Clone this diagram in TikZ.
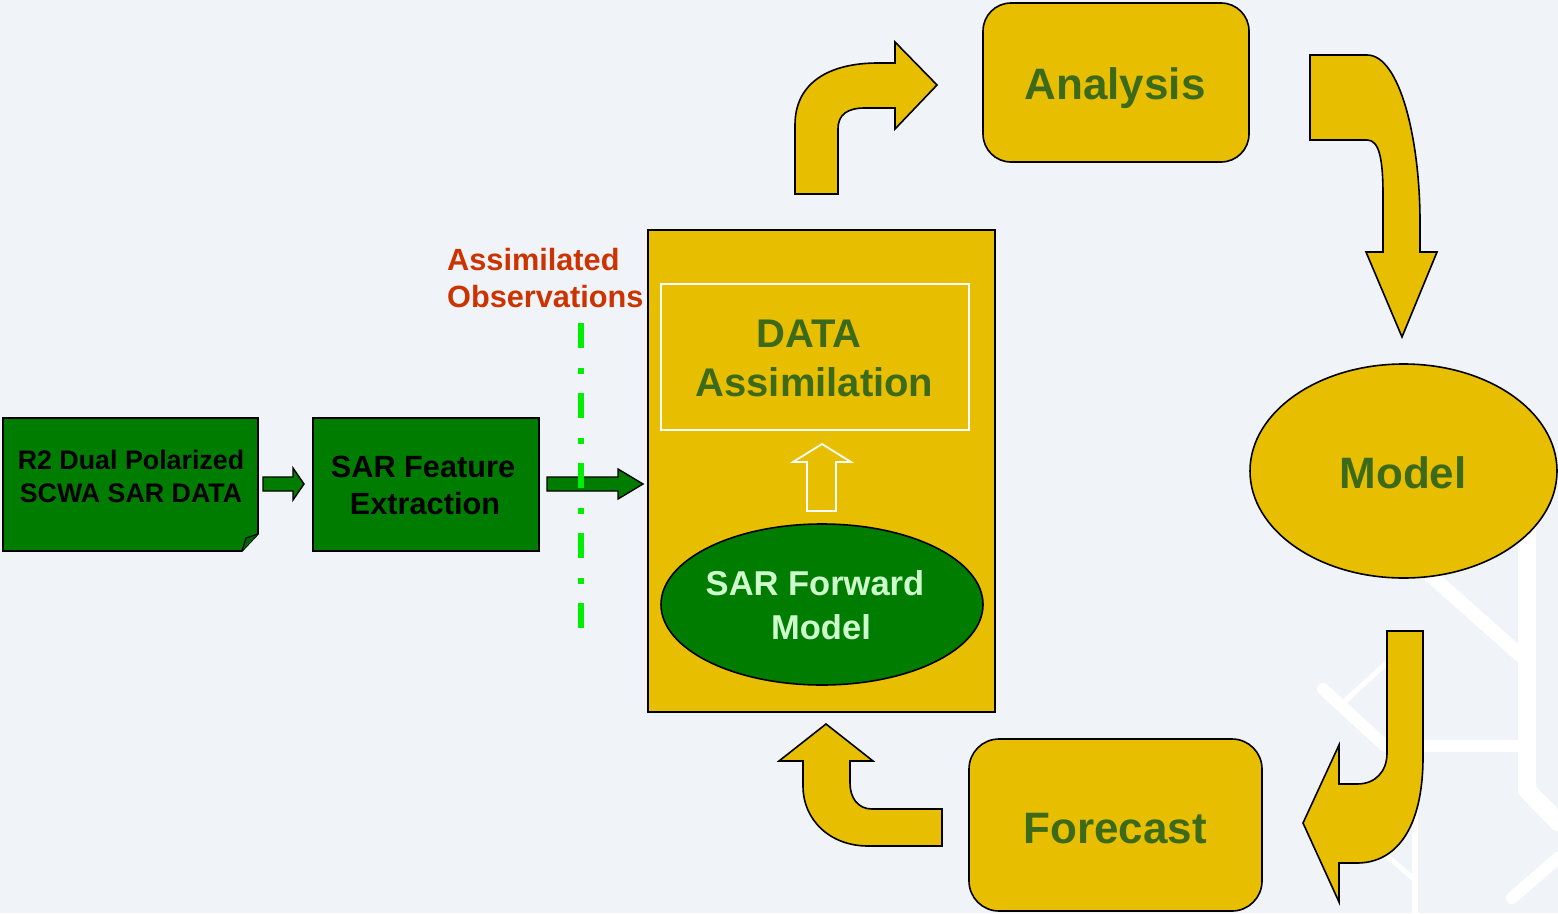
\documentclass[tikz,border=0pt]{standalone}
\usepackage{fontspec}
\setmainfont{Liberation Sans}
\usetikzlibrary{shapes.geometric}
\definecolor{bgc}{HTML}{F0F4F8}
\definecolor{yel}{HTML}{E8BE00}
\definecolor{grn}{HTML}{007C00}
\definecolor{olv}{HTML}{3C6A18}
\definecolor{redt}{HTML}{CC3300}
\definecolor{limeg}{HTML}{00EE00}
\definecolor{ltg}{HTML}{CCFFCC}
\definecolor{foldg}{HTML}{006400}
\tikzset{
  ybox/.style={draw=black, line width=1.6pt, fill=yel, inner sep=0pt},
  gbox/.style={draw=black, line width=1.6pt, fill=grn, inner sep=0pt},
  blockarrow/.style={draw=black, line width=1.6pt, fill=yel, line join=miter},
  garrow/.style={draw=black, line width=1.4pt, fill=grn, line join=miter},
  bgline/.style={draw=white, line cap=round, line join=round},
  bigtxt/.style={anchor=base, inner sep=0pt, text=olv, font=\bfseries\fontsize{44pt}{50pt}\selectfont},
  datxt/.style={anchor=base, inner sep=0pt, text=olv, font=\bfseries\fontsize{40pt}{46pt}\selectfont},
  fmtxt/.style={anchor=base, inner sep=0pt, text=ltg, font=\bfseries\fontsize{34.5pt}{40pt}\selectfont},
  blktxt/.style={anchor=base, inner sep=0pt, text=black, font=\bfseries\fontsize{30.7pt}{36pt}\selectfont},
  srctxt/.style={anchor=base, inner sep=0pt, text=black, font=\bfseries\fontsize{26.8pt}{32pt}\selectfont},
  redtxt/.style={anchor=base west, inner sep=0pt, text=redt, font=\bfseries\fontsize{30.7pt}{36pt}\selectfont},
}
\begin{document}
\begin{tikzpicture}[x=1pt,y=-1pt]
\useasboundingbox (0,0) rectangle (1558,913);
\fill[bgc] (0,0) rectangle (1558,913);

% faint background network
\draw[bgline, line width=18pt] (1527,520) -- (1527,790) -- (1558,822);
\draw[bgline, line width=14pt] (1430,575) -- (1520,655);
\draw[bgline, line width=12pt] (1323,689) -- (1385,746) -- (1527,746);
\draw[bgline, line width=5pt] (1345,701) -- (1392,658);
\draw[bgline, line width=6pt] (1415,800) -- (1415,913);
\draw[bgline, line width=5pt] (1380,850) -- (1415,880);
\draw[bgline, line width=12pt] (1512,898) -- (1558,858);

% source document box
\coordinate (srcNW) at (3,418);
\draw[gbox, line join=miter] (srcNW) -- (258,418) -- (258,534) -- (242,551) -- (3,551) -- cycle;
\fill[foldg] (242,551) -- (246,538) -- (258,534) -- cycle;
\draw[black, line width=1.2pt] (242,551) -- (246,538) -- (258,534);
\node[srctxt] (srcA) at (131,469) {R2 Dual Polarized};
\node[srctxt] (srcB) at (131,502) {SCWA SAR DATA};

% feature extraction
\node[gbox, minimum width=226pt, minimum height=133pt] (sar) at (426,484.5) {};
\node[blktxt] (sarA) at (423,477) {SAR Feature};
\node[blktxt] (sarB) at (425,514) {Extraction};

% green arrows
\draw[garrow] (263,477) -- (293,477) -- (293,468) -- (304,484) -- (293,500) -- (293,491) -- (263,491) -- cycle;
\draw[garrow] (547,477) -- (618,477) -- (618,469) -- (643,484) -- (618,499) -- (618,491) -- (547,491) -- cycle;

% dashed line and label
\draw[limeg, line width=6pt, dash pattern=on 25pt off 20pt on 6pt off 19pt] (581,323) -- (581,631);
\node[redtxt] (obsA) at (447,270) {Assimilated};
\node[redtxt] (obsB) at (447,307) {Observations};

% data assimilation block
\node[ybox, minimum width=347pt, minimum height=482pt] (da) at (821.5,471) {};
\node[draw=white, line width=1.5pt, minimum width=308pt, minimum height=146pt, inner sep=0pt] (inner) at (815,357) {};
\node[datxt] (daA) at (809,347) {DATA};
\node[datxt] (daB) at (814.5,396) {Assimilation};
\draw[white, line width=1.8pt, line join=miter] (807,511) -- (807,462) -- (793,462) -- (822,444) -- (851,462) -- (836,462) -- (836,511) -- cycle;
\node[gbox, ellipse, minimum width=322pt, minimum height=161pt] (sfm) at (822,604.5) {};
\node[fmtxt] (sfmA) at (815,595.5) {SAR Forward};
\node[fmtxt] (sfmB) at (821,639.5) {Model};

% cycle boxes
\node[ybox, rounded corners=28pt, minimum width=266pt, minimum height=159pt] (ana) at (1116,82.5) {};
\node[bigtxt] (anaT) at (1115,99) {Analysis};
\node[ybox, ellipse, minimum width=307pt, minimum height=214pt] (model) at (1403.5,471) {};
\node[bigtxt] (modelT) at (1403,488) {Model};
\node[ybox, rounded corners=30pt, minimum width=293pt, minimum height=172pt] (fc) at (1115.5,825) {};
\node[bigtxt] (fcT) at (1115,843) {Forecast};

% block arrows
\draw[blockarrow] (795,194) -- (795,125) .. controls (795,82) and (830,63) .. (878,63) -- (895,63) -- (895,42) -- (937,85) -- (895,129) -- (895,108) -- (865,108) .. controls (848,108) and (838,114) .. (838,129) -- (838,194) -- cycle;
\draw[blockarrow] (1310,55) -- (1367,55) .. controls (1400,55) and (1420,140) .. (1420,222) -- (1420,252) -- (1437,252) -- (1402,337) -- (1366,252) -- (1383,252) -- (1383,195) .. controls (1383,158) and (1379,140) .. (1367,140) -- (1310,140) -- cycle;
\draw[blockarrow] (1387,631) -- (1423,631) -- (1423,757) .. controls (1423,830) and (1395,863) .. (1357,863) -- (1339,863) -- (1339,902) -- (1303,823) -- (1339,745) -- (1339,784) -- (1357,784) .. controls (1375,784) and (1387,772) .. (1387,753) -- cycle;
\draw[blockarrow] (942,809) -- (942,846) -- (868,846) .. controls (830,846) and (803,820) .. (803,786) -- (803,761) -- (779,761) -- (826,724) -- (873,761) -- (850,761) -- (850,783) .. controls (850,798) and (858,809) .. (872,809) -- cycle;
\end{tikzpicture}
\end{document}
